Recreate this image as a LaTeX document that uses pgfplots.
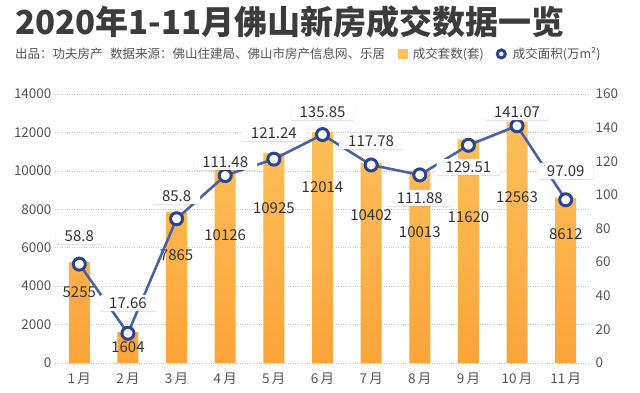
\documentclass[border=0pt]{standalone}
\usepackage{pgfplots}
\pgfplotsset{compat=1.18}
\usepackage{pgfplotstable}
\usepackage{fontspec}
\setmainfont{Noto Sans CJK SC}
\usetikzlibrary{shadows}
\definecolor{titlec}{HTML}{3C3C3C}
\definecolor{subc}{HTML}{555555}
\definecolor{barTop}{HTML}{FFC05C}
\definecolor{barBot}{HTML}{FBA43A}
\definecolor{lineC}{HTML}{4A62A2}
\definecolor{markC}{HTML}{2C4490}
\definecolor{gridc}{HTML}{C8C8C8}
\definecolor{tickc}{HTML}{555555}
\definecolor{valc}{HTML}{333333}

\pgfplotstableread{
x n ly
0 5255 3695
1 1604 833
2 7865 5620
3 10126 6661
4 10925 8066
5 12014 9159
6 10402 7702
7 10013 6817
8 11620 7598
9 12563 8639
10 8612 6713
}\bars

\pgfplotstableread{
x a lab ly
0 58.8 58.8 75.5
1 17.66 17.66 35.7
2 85.8 85.8 99.3
3 111.48 111.48 119.6
4 121.24 121.24 136.8
5 135.85 135.85 149.3
6 117.78 117.78 132.0
7 111.88 111.88 98.1
8 129.51 129.51 116.6
9 141.07 141.07 149.3
10 97.09 97.09 114.2
}\area

\pgfplotsset{
  common/.style={
    width=535pt, height=269pt, scale only axis,
    at={(0,0)}, anchor=south west,
    xmin=-0.5, xmax=10.5,
    axis line style={draw=none},
    major tick length=0pt,
    scaled y ticks=false,
    ticklabel style={font=\fontsize{13.5}{13.5}\selectfont, text=tickc},
    /pgf/number format/assume math mode=true,
    /pgf/number format/1000 sep={},
  }
}

\begin{document}
\begin{tikzpicture}
\path[use as bounding box] (-55pt,-29pt) rectangle (585pt,363pt);

\begin{axis}[common,
  ymin=0, ymax=14000, ytick={0,2000,...,14000},
  axis y line*=left,
  ymajorgrids, grid style={gridc, dotted, line width=0.6pt},
  xtick={0,...,10},
  xticklabels={1\,月,2\,月,3\,月,4\,月,5\,月,6\,月,7\,月,8\,月,9\,月,10\,月,11\,月},
  xticklabel style={yshift=-6pt},
]
\addplot[ybar, bar width=21pt, draw=none, top color=barTop, bottom color=barBot]
  table[x=x, y=n] {\bars};
\addplot[draw=none, mark=none, nodes near coords, point meta=explicit symbolic,
  nodes near coords style={anchor=center, text=valc, font=\fontsize{15}{15}\selectfont}]
  table[x=x, y=ly, meta=n] {\bars};
\end{axis}

\begin{axis}[common,
  ymin=0, ymax=160, ytick={0,20,...,160},
  axis y line*=right,
  hide x axis,
  yticklabel style={xshift=2pt},
  legend style={at={(0.636,1.149)}, anchor=west, draw=none, fill=none,
    font=\fontsize{12.5}{12.5}\selectfont, text=subc,
    /tikz/every even column/.append style={column sep=10pt}},
  legend columns=-1,
]
\addlegendimage{legend image code/.code={\fill[barTop] (0pt,-4.5pt) rectangle (9pt,4.5pt);}}
\addlegendentry{\hspace{3pt}成交套数(套)}
\addlegendimage{legend image code/.code={\draw[markC, line width=3pt, fill=white] (5pt,0pt) circle (4pt);}}
\addlegendentry{\hspace{4pt}成交面积(万m²)}
\addplot[lineC, line width=2.6pt, mark=*, mark size=6pt,
  mark options={fill=white, draw=markC, line width=3pt}, forget plot]
  table[x=x, y=a] {\area};
\addplot[draw=none, mark=none, forget plot, nodes near coords, point meta=explicit symbolic,
  nodes near coords style={anchor=center, text=valc, fill=white, rounded corners=2pt,
    inner xsep=9pt, inner ysep=2.5pt,
    drop shadow={shadow xshift=0pt, shadow yshift=-1pt, opacity=0.12, fill=black},
    font=\fontsize{15}{15}\selectfont}]
  table[x=x, y=ly, meta=lab] {\area};
\end{axis}

\node[anchor=west, inner sep=0pt, text=titlec, font=\fontsize{33}{33}\bfseries\selectfont]
  at (-40pt,341pt) {2020年1-11月佛山新房成交数据一览};
\node[anchor=west, inner sep=0pt, text=subc, font=\fontsize{12.5}{12.5}\selectfont]
  at (-40pt,309pt) {出品：功夫房产\hspace{0.6em}数据来源：佛山住建局、佛山市房产信息网、乐居};
\end{tikzpicture}
\end{document}
